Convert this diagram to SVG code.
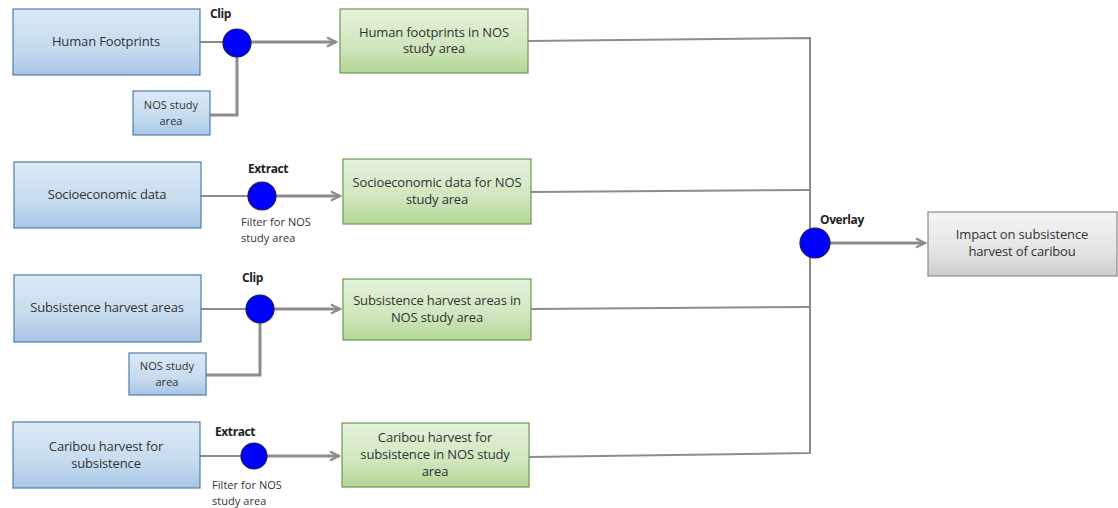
<svg xmlns="http://www.w3.org/2000/svg" width="1118" height="508" viewBox="0 0 1118 508">
<defs>
<linearGradient id="gb" x1="0" y1="0" x2="0" y2="1"><stop offset="0" stop-color="#dce9f6"/><stop offset="0.6" stop-color="#c6dbef"/><stop offset="1" stop-color="#a7c6e6"/></linearGradient>
<linearGradient id="gg" x1="0" y1="0" x2="0" y2="1"><stop offset="0" stop-color="#e6f1dc"/><stop offset="0.6" stop-color="#d0e6bd"/><stop offset="1" stop-color="#b3d695"/></linearGradient>
<linearGradient id="gy" x1="0" y1="0" x2="0" y2="1"><stop offset="0" stop-color="#f4f4f4"/><stop offset="0.6" stop-color="#e4e4e4"/><stop offset="1" stop-color="#cdcdcd"/></linearGradient>
<marker id="ar" viewBox="0 0 12 12" refX="10" refY="6" markerWidth="12" markerHeight="12" markerUnits="userSpaceOnUse" orient="auto"><path d="M1,1.5 L10,6 L1,10.5" fill="none" stroke="#8c8c8c" stroke-width="2.2"/></marker>
</defs>
<style>
.b{fill:url(#gb);stroke:#4f7eae;stroke-width:1.2}
.g{fill:url(#gg);stroke:#6b9a4f;stroke-width:1.2}
.y{fill:url(#gy);stroke:#8a8a8a;stroke-width:1.2}
.c{fill:#0000ff;stroke:#1a1a4a;stroke-width:1.2}
.t{font-family:"Open Sans","Liberation Sans",sans-serif;font-size:13px;fill:#333;text-anchor:middle;letter-spacing:-0.15px}
.s{font-family:"Open Sans","Liberation Sans",sans-serif;font-size:11px;fill:#333;letter-spacing:0.05px}
.l{font-family:"Open Sans","Liberation Sans",sans-serif;font-size:12px;font-weight:bold;fill:#222;letter-spacing:-0.4px}
.k{fill:none;stroke:#8c8c8c;stroke-width:3}
.n{fill:none;stroke:#8c8c8c;stroke-width:2}
</style>
<g id="connectors">
<path class="n" d="M200,42 H224"/>
<path class="k" d="M251,42 H336" marker-end="url(#ar)"/>
<path class="k" d="M237,57 V115 H210"/>
<path class="n" d="M201,196 H249"/>
<path class="k" d="M276,196 H340" marker-end="url(#ar)"/>
<path class="n" d="M201,309 H247"/>
<path class="k" d="M274,309 H340" marker-end="url(#ar)"/>
<path class="k" d="M260,323 V375 H206"/>
<path class="n" d="M200,456 H241"/>
<path class="k" d="M267,456 H339" marker-end="url(#ar)"/>
<path class="n" d="M528,41 L810,38 V453 L529,457"/>
<path class="n" d="M531,192 L810,190"/>
<path class="n" d="M531,309 L810,307"/>
<path class="k" d="M830,243 H925" marker-end="url(#ar)"/>
</g>
<g id="n1"><rect class="b" x="13" y="9" width="187" height="66"/><text class="t" x="106" y="46">Human Footprints</text></g>
<g id="op1"><circle class="c" cx="237" cy="43" r="14"/><text class="l" x="210" y="18">Clip</text></g>
<g id="a1"><rect class="b" x="133" y="91" width="77" height="44"/><text class="s" x="171" y="109" text-anchor="middle">NOS study</text><text class="s" x="171" y="125" text-anchor="middle">area</text></g>
<g id="r1"><rect class="g" x="340" y="9" width="188" height="64"/><text class="t" x="434" y="37">Human footprints in NOS</text><text class="t" x="434" y="53">study area</text></g>
<g id="n2"><rect class="b" x="14" y="162" width="187" height="66"/><text class="t" x="107" y="199">Socioeconomic data</text></g>
<g id="op2"><circle class="c" cx="262" cy="196" r="14"/><text class="l" x="248" y="173">Extract</text><text class="s" x="241" y="226">Filter for NOS</text><text class="s" x="241" y="242">study area</text></g>
<g id="r2"><rect class="g" x="343" y="159" width="188" height="65"/><text class="t" x="437" y="187">Socioeconomic data for NOS</text><text class="t" x="437" y="204">study area</text></g>
<g id="n3"><rect class="b" x="14" y="275" width="187" height="67"/><text class="t" x="107" y="312">Subsistence harvest areas</text></g>
<g id="op3"><circle class="c" cx="260" cy="309" r="14"/><text class="l" x="242" y="282">Clip</text></g>
<g id="a3"><rect class="b" x="129" y="353" width="77" height="42"/><text class="s" x="167" y="370" text-anchor="middle">NOS study</text><text class="s" x="167" y="386" text-anchor="middle">area</text></g>
<g id="r3"><rect class="g" x="343" y="279" width="188" height="61"/><text class="t" x="437" y="305">Subsistence harvest areas in</text><text class="t" x="437" y="322">NOS study area</text></g>
<g id="n4"><rect class="b" x="13" y="422" width="187" height="66"/><text class="t" x="106" y="451">Caribou harvest for</text><text class="t" x="106" y="468">subsistence</text></g>
<g id="op4"><circle class="c" cx="254" cy="456" r="13"/><text class="l" x="215" y="436">Extract</text><text class="s" x="212" y="489">Filter for NOS</text><text class="s" x="212" y="505">study area</text></g>
<g id="r4"><rect class="g" x="342" y="423" width="187" height="64"/><text class="t" x="435" y="442">Caribou harvest for</text><text class="t" x="435" y="459">subsistence in NOS study</text><text class="t" x="435" y="476">area</text></g>
<g id="ov"><circle class="c" cx="815" cy="243" r="15"/><text class="l" x="820" y="224">Overlay</text></g>
<g id="res"><rect class="y" x="928" y="212" width="189" height="64"/><text class="t" x="1022" y="239">Impact on subsistence</text><text class="t" x="1022" y="256">harvest of caribou</text></g>
</svg>
